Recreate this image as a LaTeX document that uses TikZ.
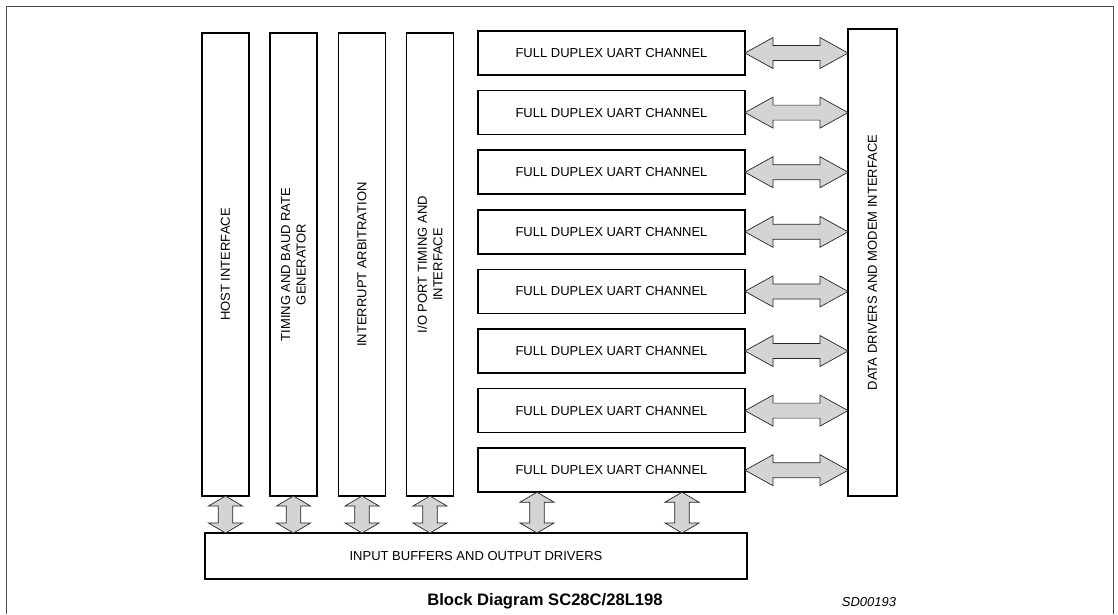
\documentclass[tikz,border=0pt]{standalone}
\usepackage{fontspec}
\setmainfont{Liberation Sans}
\usetikzlibrary{calc}
\begin{document}
\begin{tikzpicture}[x=1pt,y=-1pt,
  txt/.style={font=\fontsize{13}{15.5}\selectfont},
  blk/.style={draw, line width=1.5pt, inner sep=0pt, outer sep=0pt, txt},
  colbox/.style={blk, minimum width=47, minimum height=463},
  uart/.style={blk, minimum width=267, minimum height=44},
  vlabel/.style={rotate=90, align=center, txt},
  bus/.style={draw=black!85, line width=0.7pt, fill=black!17, line join=miter},
  hbus/.style={bus, to path={let \p1=(\tikztostart), \p2=(\tikztotarget) in
    (\x1,\y1) -- (\x1+28pt,\y1+15.5pt) -- (\x1+28pt,\y1+7.5pt) -- (\x2-28pt,\y1+7.5pt)
    -- (\x2-28pt,\y1+15.5pt) -- (\x2,\y1) -- (\x2-28pt,\y1-15.5pt) -- (\x2-28pt,\y1-7.5pt)
    -- (\x1+28pt,\y1-7.5pt) -- (\x1+28pt,\y1-15.5pt) -- cycle}},
  vbus/.style={bus, to path={let \p1=(\tikztostart), \p2=(\tikztotarget) in
    (\x1,\y1) -- (\x1+17pt,\y1-10pt) -- (\x1+7.3pt,\y1-10pt) -- (\x1+7.3pt,\y2+10pt)
    -- (\x1+17pt,\y2+10pt) -- (\x1,\y2) -- (\x1-17pt,\y2+10pt) -- (\x1-7.3pt,\y2+10pt)
    -- (\x1-7.3pt,\y1-10pt) -- (\x1-17pt,\y1-10pt) -- cycle}}]
\useasboundingbox (0,0) rectangle (1118,614);

% page frame, open at the bottom
\draw[line width=1pt, black!70] (6,614) -- (6,6) -- (1113,6) -- (1113,614);

% vertical function blocks
\node[colbox] (host) at (225.5,264.5) {};
\node[colbox] (baud) at (293.5,264.5) {};
\node[colbox] (intr) at (362,264.5) {};
\node[colbox] (iop)  at (430,264.5) {};
\node[vlabel] at (host) {HOST INTERFACE};
\node[vlabel] at (baud) {TIMING AND BAUD RATE\\GENERATOR};
\node[vlabel] at (intr) {INTERRUPT ARBITRATION};
\node[vlabel] at (iop)  {I/O PORT TIMING AND\\INTERFACE};

% eight UART channels
\foreach \i in {1,...,8}{
  \node[uart] (u\i) at (611.5,{53+59.6*(\i-1)}) {FULL DUPLEX UART CHANNEL};
}

% data drivers and modem interface
\node[blk, minimum width=49, minimum height=467] (ddm) at (872.5,262.5) {};
\node[vlabel] at (ddm) {DATA DRIVERS AND MODEM INTERFACE};

% input buffers and output drivers
\node[uart, minimum width=542, minimum height=46] (iob) at (476,556) {INPUT BUFFERS AND OUTPUT DRIVERS};

% channel buses to the modem interface
\foreach \i in {1,...,8}{
  \draw[hbus] (u\i.east) to (ddm.west |- u\i.east);
}

% buses down to the I/O buffers
\foreach \b in {host,baud,intr,iop}{
  \draw[vbus] (\b.south) to (\b.south |- iob.north);
}
\coordinate (ua) at ($(u8.south west)!0.221!(u8.south east)$);
\coordinate (ub) at ($(u8.south west)!0.764!(u8.south east)$);
\draw[vbus] (ua) to (ua |- iob.north);
\draw[vbus] (ub) to (ub |- iob.north);

% captions
\node[font=\fontsize{16.6}{19}\selectfont\bfseries] (cap) at (545,601) {Block Diagram SC28C/28L198};
\node[font=\fontsize{13}{15}\selectfont\itshape] (code) at (869,602) {SD00193};
\end{tikzpicture}
\end{document}
